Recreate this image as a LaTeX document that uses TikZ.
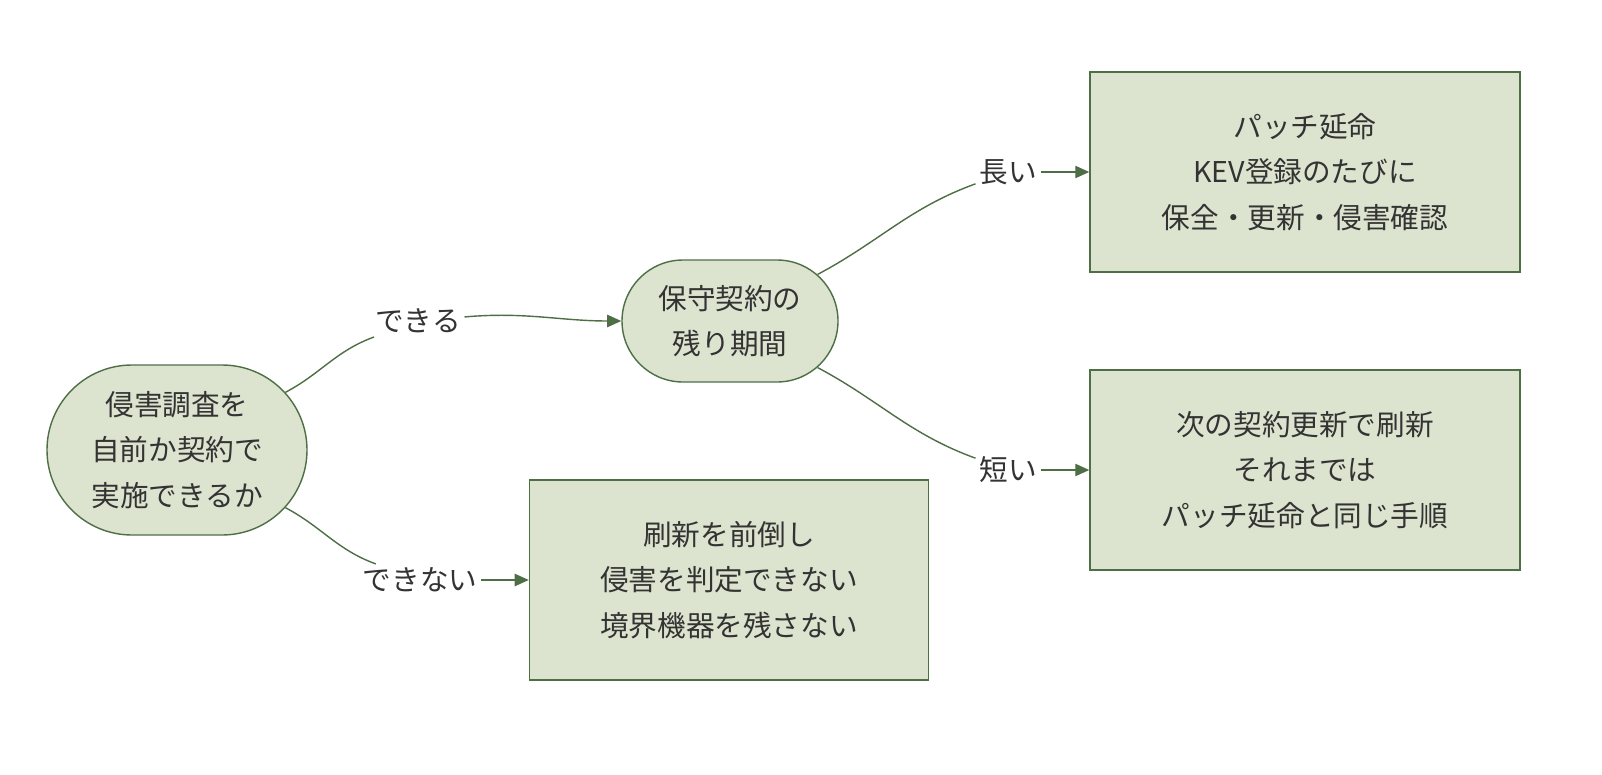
\documentclass[tikz,border=0pt]{standalone}
\usepackage{fontspec}
\setmainfont{Noto Sans CJK JP}
\usepackage{tikz}
\usetikzlibrary{shapes.misc,arrows.meta}
\definecolor{boxfill}{HTML}{DCE4CF}
\definecolor{boxline}{HTML}{4E6E46}
\definecolor{ink}{HTML}{333333}
\begin{document}
\begin{tikzpicture}[x=0.02cm,y=-0.02cm,
    every node/.style={text=ink,font=\fontsize{16.3}{26}\selectfont,align=center},
    round/.style={rounded rectangle,draw=boxline,fill=boxfill,line width=0.8pt,inner sep=0pt},
    box/.style={rectangle,draw=boxline,fill=boxfill,line width=0.8pt,inner sep=0pt},
    lab/.style={inner sep=2pt},
    link/.style={draw=boxline,line width=0.8pt},
    arr/.style={link,-{Triangle[length=8pt,width=7pt]}}]
    \useasboundingbox (0,0) rectangle (1602,774);
            \node (ask)   [round,minimum width=260*0.02cm,minimum height=170*0.02cm] at (177,450) {侵害調査を\\自前か契約で\\実施できるか};
            \node (rest)  [round,minimum width=216*0.02cm,minimum height=122*0.02cm] at (730,321) {保守契約の\\残り期間};
            \node (long)  [box,minimum width=430*0.02cm,minimum height=200*0.02cm] at (1305,172) {パッチ延命\\KEV登録のたびに\\保全・更新・侵害確認};
            \node (short) [box,minimum width=430*0.02cm,minimum height=200*0.02cm] at (1305,470) {次の契約更新で刷新\\それまでは\\パッチ延命と同じ手順};
            \node (renew) [box,minimum width=399*0.02cm,minimum height=200*0.02cm] at (729,580) {刷新を前倒し\\侵害を判定できない\\境界機器を残さない};
            \node (yes)   [lab] at (418,321) {できる};
            \node (no)    [lab] at (420,580) {できない};
            \node (lg)    [lab] at (1008,172) {長い};
            \node (sh)    [lab] at (1008,470) {短い};
            \draw[link] (ask) to[out=28,in=200] (yes);
            \draw[arr]  (yes) to[out=5,in=180] (rest);
            \draw[link] (ask) to[out=-28,in=160] (no);
            \draw[arr]  (no)  to[out=0,in=180] (renew);
            \draw[link] (rest) to[out=28,in=200] (lg);
            \draw[arr]  (lg)   to[out=0,in=180] (long);
            \draw[link] (rest) to[out=-28,in=160] (sh);
            \draw[arr]  (sh)   to[out=0,in=180] (short);
\end{tikzpicture}
\end{document}
